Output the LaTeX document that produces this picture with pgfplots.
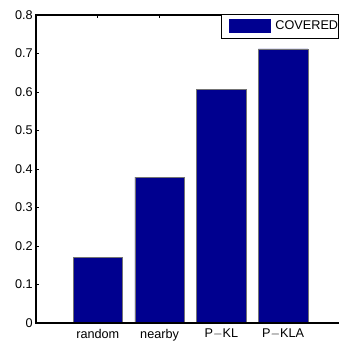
\documentclass[border=0pt]{standalone}
\usepackage{pgfplots}
\pgfplotsset{compat=1.18}
\usepackage{fontspec}
\setmainfont{Liberation Sans}
\definecolor{barblue}{rgb}{0,0,0.5625}
\begin{document}
\begin{tikzpicture}[x=1pt,y=1pt]
\begin{axis}[
  at={(0pt,0pt)}, anchor=origin,
  scale only axis,
  clip=false,
  width=231.75pt, height=231pt,
  xmin=0, xmax=5, ymin=0, ymax=0.8,
  xtick={1,2,3,4},
  xticklabels={random,nearby,P$-$KL,P$-$KLA},
  ytick={0,0.1,...,0.8},
  ytick pos=left,
  yticklabel style={/pgf/number format/fixed,/pgf/number format/precision=1},
  /pgf/number format/assume math mode=true,
  tick align=inside,
  major tick length=2.5pt,
  tick style={black, line width=0.5pt},
  axis line style={draw=none},
  tick label style={font=\fontsize{9.5}{11}\selectfont},
  xticklabel style={yshift=-1pt},
  yticklabel style={xshift=1pt},
  legend style={at={(0.599,1.004)}, anchor=north west, draw=black, line width=0.6pt,
    font=\fontsize{9.5}{11}\selectfont, inner xsep=0pt, inner ysep=0pt,
    nodes={inner sep=0pt}, column sep=0pt},
  legend image code/.code={
    \path[draw=none, fill=none] (0pt,-9pt) rectangle (40.5pt,9pt);
    \fill[barblue, draw=none] (6pt,-5.25pt) rectangle (37.5pt,5.25pt);},
  legend cell align=left,
]
\addplot[ybar, bar width=0.8, fill=barblue, draw=black!55, line width=0.4pt]
  coordinates {(1,0.170) (2,0.379) (3,0.606) (4,0.712)};
\addlegendentry{COVERED\hspace{1.5pt}}
\draw[black, line width=0.8pt] (rel axis cs:0.98,1) -- (rel axis cs:0,1) -- (rel axis cs:0,0) -- (rel axis cs:0.98,0);
\end{axis}
\pgfresetboundingbox
\path[use as bounding box] (-27pt,-15pt) rectangle (228pt,242.25pt);
\end{tikzpicture}
\end{document}
